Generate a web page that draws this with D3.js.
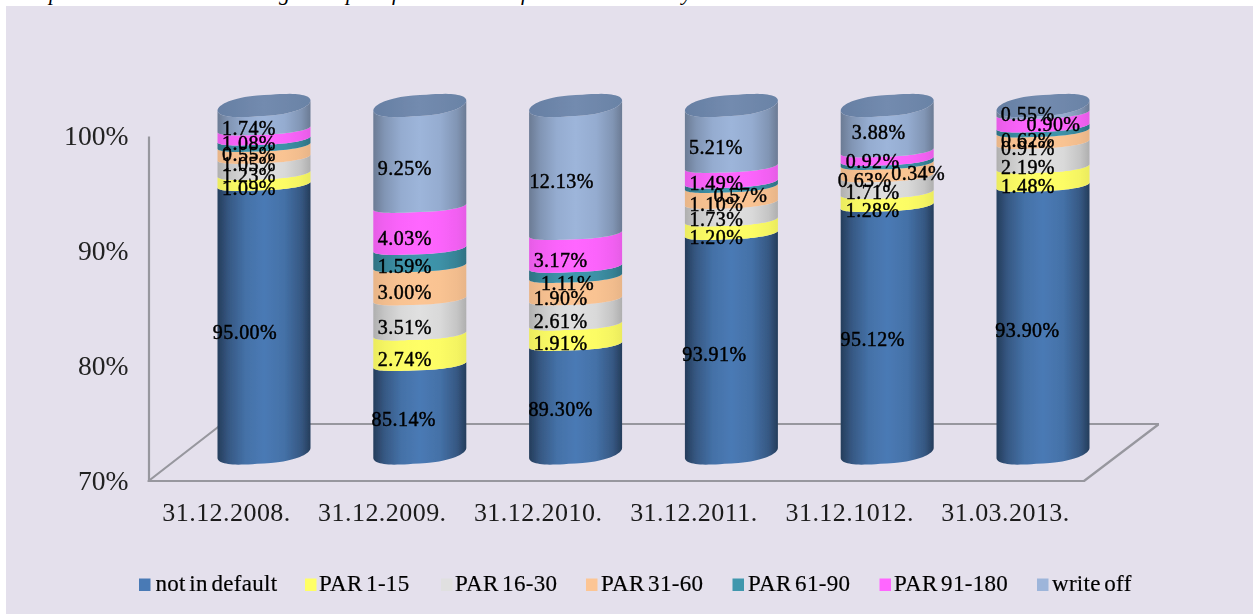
<!DOCTYPE html>
<html><head><meta charset="utf-8">
<script src="https://cdn.jsdelivr.net/npm/d3@7"></script>
<style>
html,body{margin:0;padding:0;background:#fff;overflow:hidden}
svg{display:block;font-family:"Liberation Serif","Times New Roman",serif}
</style></head><body>
<script>
// ---- data ----
const categories = ["31.12.2008.","31.12.2009.","31.12.2010.","31.12.2011.","31.12.1012.","31.03.2013."];
const seriesNames = ["not in default","PAR 1-15","PAR 16-30","PAR 31-60","PAR 61-90","PAR 91-180","write off"];
const yTicks = [70,80,90,100];
// drawn heights (the printed labels do not agree with them)
const notInDefault = [93.16,77.62,79.35,88.93,91.35,93.08];
const par1to15     = [0.95,2.64,1.77,1.17,1.12,1.60];
const par16to30    = [1.39,3.02,2.16,1.51,1.43,2.11];
const par31to60    = [1.03,2.85,1.94,1.38,1.08,0.99];
const par61to90    = [0.56,1.51,0.87,0.39,0.34,0.43];
const par91to180   = [0.87,3.63,2.84,1.34,0.74,1.13];
const writeOff     = [2.04,8.73,11.07,5.28,3.94,0.66];
// printed labels, as in the picture
const labelsNotInDefault = ["95.00%","85.14%","89.30%","93.91%","95.12%","93.90%"];
const labelsPar1to15     = ["1.09%","2.74%","1.91%","1.20%","1.28%","1.48%"];
const labelsPar16to30    = ["1.23%","3.51%","2.61%","1.73%","1.71%","2.19%"];
const labelsPar31to60    = ["1.05%","3.00%","1.90%","1.10%","0.63%","0.91%"];
const labelsPar61to90    = ["0.55%","1.59%","1.11%","0.57%","0.34%","0.62%"];
const labelsPar91to180   = ["1.08%","4.03%","3.17%","1.49%","0.92%","0.90%"];
const labelsWriteOff     = ["1.74%","9.25%","12.13%","5.21%","3.88%","0.55%"];
// ---- layout / style ----
const W=1253,H=614;
const seriesValues=[notInDefault,par1to15,par16to30,par31to60,par61to90,par91to180,writeOff];
const seriesLabels=[labelsNotInDefault,labelsPar1to15,labelsPar16to30,labelsPar31to60,labelsPar61to90,labelsPar91to180,labelsWriteOff];
const colors=["#4a7ab5","#ffff66","#e0e0e0","#fcc594","#3f97ad","#ff66ff","#9db5da"];
const edgeShade=[0.5,0.08,0.22,0.08,0.25,0.1,0.32];
const labelDy=[[14,11,11,11.5,10.5,11.5],[8.8,10.3,9.3,10.3,10.8,10.3],[9.3,10.3,9.3,8.3,8.3,12.3],[12.3,9.3,10.3,9.3,10.3,11.3],[12.3,9.3,11.3,11.3,11.3,11.3],[8.8,10.3,9.8,9.3,6.3,4.3],[10.7,12.2,12.2,11.2,3.7,4.7]];
const labelDx=[[-19,-16,-15,-17,-14.5,-15.5],[-15,-15,-15,-15,-14.5,-15],[-15,-15,-15,-15,-14.5,-15],[-15,-15,-15,-15,-22.5,-15],[-15,-15,-8,9,31,-15],[-15,-15,-15,-15,-14.5,10.5],[-15,-15,-14,-15.5,-8.5,-15.3]];
const legendSquareX=[139,305,441,586,732.5,879.5,1037];
const legendTextX=[155.5,319,455,601,748,894,1052];
const clippedTitleGlyphs=[["p",49],["g",279],["p",346],["f",392],["f",521],["y",682]];
const rx=46.5, endRy=10.5, endTilt=5, bandRy=5.5, bandTilt=3;

const svg=d3.select("body").append("svg").attr("width",W).attr("height",H).attr("viewBox",[0,0,W,H]);
const defs=svg.append("defs");
defs.append("filter").attr("id","soft").attr("x",0).attr("y",0).attr("width",1).attr("height",1)
  .append("feGaussianBlur").attr("stdDeviation",0.45);

svg.append("rect").attr("width",W).attr("height",H).attr("fill","#fff");
svg.append("g").selectAll("text").data(clippedTitleGlyphs).join("text")
  .attr("x",d=>d[1]).attr("y",0).attr("font-size",22).attr("font-style","italic").attr("fill","#000").text(d=>d[0]);
svg.append("rect").attr("x",6).attr("y",6).attr("width",W-6).attr("height",H-6).attr("fill","#e4e0ec");

const root=svg.append("g").attr("filter","url(#soft)");

// scales: cylinders stand on the back plane, axes on the front plane
const xBack=d3.scalePoint().domain(categories).range([264,1043]);
const xFront=d3.scalePoint().domain(categories).range([226,1005]);
const yBack=d3.scaleLinear().domain([70,100]).range([453,105.5]);
const yFront=d3.scaleLinear().domain([70,100]).range([481,136]);

// floor
const axisColor="#97979e";
root.append("path")
  .attr("d",d3.line()([[148.5,yFront(70)],[1084,yFront(70)],[1159,424],[222,424]])+"Z")
  .attr("fill","none").attr("stroke",axisColor).attr("stroke-width",2.2).attr("stroke-linejoin","round");

// axes
const yAxis=root.append("g").attr("transform","translate(148.5,0)")
  .call(d3.axisLeft(yFront).tickValues(yTicks).tickSize(0).tickPadding(20).tickFormat(d=>d+"%"));
yAxis.select(".domain").attr("stroke",axisColor).attr("stroke-width",2.2);
yAxis.selectAll("text").attr("font-size",27.6).attr("font-family","Liberation Serif").attr("fill","#222");
const xAxis=root.append("g").attr("transform",`translate(0,${yFront(70)})`)
  .call(d3.axisBottom(xFront).tickSize(0).tickPadding(22));
xAxis.select(".domain").remove();
xAxis.selectAll("text").attr("font-size",26).attr("font-family","Liberation Serif").attr("fill","#1a1a1a").attr("letter-spacing",0.45);

// gradients
colors.forEach((c,i)=>{
  const g=defs.append("linearGradient").attr("id","side"+i);
  const shade=k=>d3.interpolateRgb(c,"#000")(k*edgeShade[i]);
  [[0,1],[0.12,0.55],[0.3,0.15],[0.5,0],[0.72,0.15],[0.9,0.55],[1,1]].forEach(s=>
    g.append("stop").attr("offset",s[0]).attr("stop-color",shade(s[1])));
});

// stack
const rows=categories.map((c,i)=>{const r={category:c};seriesNames.forEach((s,j)=>r[s]=seriesValues[j][i]);return r;});
const stacked=d3.stack().keys(seriesNames)(rows);

// a slightly squared ellipse, as the reference's cylinders have
const soft=(v,p)=>Math.sign(v)*Math.pow(Math.abs(v),p);
const ring=(cx,yc,r,tl,t)=>[cx+rx*soft(Math.cos(t),0.75),yc+r*Math.sin(t)-tl*Math.cos(t)];
function frontArc(cx,yc,r,tl,reverse){
  const pts=d3.range(0,41).map(k=>ring(cx,yc,r,tl,Math.PI-k/40*Math.PI));
  return reverse?pts.reverse():pts;
}
const closed=d3.line().curve(d3.curveLinearClosed);

const cols=root.append("g");
stacked.forEach((layer,s)=>{
  cols.append("g").selectAll("path").data(layer).join("path")
    .attr("fill",`url(#side${s})`)
    .attr("d",d=>{
      const cx=xBack(d.data.category);
      const lo=yBack(Math.max(d[0],70)),hi=yBack(d[1]);
      const top=d[1]>=99.999, base=d[0]<=70;
      return closed(frontArc(cx,hi,top?endRy:bandRy,top?endTilt:bandTilt,false)
        .concat(frontArc(cx,lo,base?endRy:bandRy,base?endTilt:bandTilt,true)));
    });
});
// top caps
const capGrad=defs.append("linearGradient").attr("id","cap");
[[0,"#667fa3"],[0.5,"#738baf"],[1,"#6a83a6"]].forEach(s=>capGrad.append("stop").attr("offset",s[0]).attr("stop-color",s[1]));
cols.append("g").selectAll("path").data(categories).join("path")
  .attr("fill","url(#cap)")
  .attr("d",c=>{
    const cx=xBack(c),yc=yBack(100);
    return closed(d3.range(0,80).map(k=>ring(cx,yc,endRy,endTilt,k/80*2*Math.PI)));
  });

// data labels
const lab=root.append("g").attr("font-size",20).attr("letter-spacing",0.45).attr("fill","#000").attr("stroke","#000").attr("stroke-width",0.45).attr("text-anchor","middle");
stacked.forEach((layer,s)=>{
  lab.append("g").selectAll("text").data(layer).join("text")
    .attr("x",(d,i)=>xBack(d.data.category)+labelDx[s][i])
    .attr("y",(d,i)=>(yBack(Math.max(d[0],70))+yBack(d[1]))/2+labelDy[s][i])
    .attr("dy","0.33em")
    .text((d,i)=>seriesLabels[s][i]);
});

// legend
const leg=root.append("g").selectAll("g").data(seriesNames).join("g");
leg.append("rect").attr("x",(d,i)=>legendSquareX[i]).attr("y",578.5).attr("width",11.5).attr("height",12.5).attr("fill",(d,i)=>d3.color(colors[i]));
leg.append("text").attr("x",(d,i)=>legendTextX[i]).attr("y",591).attr("font-size",23).attr("fill","#000").attr("stroke","#000").attr("stroke-width",0.2).attr("word-spacing",-2.5).attr("letter-spacing",0.3).text(d=>d);
</script>
</body></html>
